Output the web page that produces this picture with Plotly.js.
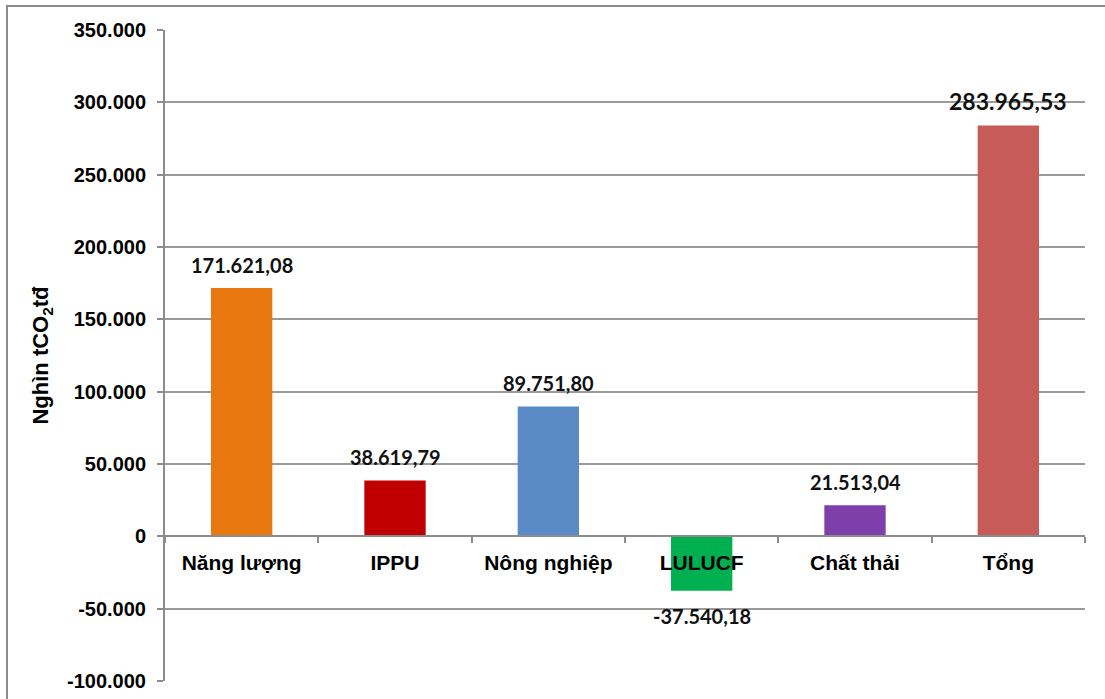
<!DOCTYPE html>
<html>
<head>
<meta charset="utf-8">
<script src="https://cdn.plot.ly/plotly-3.0.1.min.js"></script>
<style>
  html, body { margin: 0; padding: 0; background: #ffffff; }
  #chart { width: 1105px; height: 699px; }
</style>
</head>
<body>
<div id="chart"></div>
<script>
// Phát thải khí nhà kính theo lĩnh vực (nghìn tCO2tđ)
const categories = ['Năng lượng', 'IPPU', 'Nông nghiệp', 'LULUCF', 'Chất thải', 'Tổng'];
const emissions = [171621.08, 38619.79, 89751.80, -37540.18, 21513.04, 283965.53];
const barColors = ['#E8770F', '#C00000', '#5B8BC7', '#00B050', '#7E3FAA', '#C65B57'];

const yTickValues = [-100000, -50000, 0, 50000, 100000, 150000, 200000, 250000, 300000, 350000];
const yTickLabels = ['-100.000', '-50.000', '0', '50.000', '100.000', '150.000', '200.000', '250.000', '300.000', '350.000'];

const yMin = -100000, yMax = 350000;

// Vietnamese number style: "." groups thousands, "," marks decimals
function formatVi(v) {
  const neg = v < 0;
  const parts = Math.abs(v).toFixed(2).split('.');
  const grouped = parts[0].replace(/\B(?=(\d{3})+(?!\d))/g, '.');
  return (neg ? '-' : '') + grouped + ',' + parts[1];
}

const trace = {
  type: 'bar',
  x: categories,
  y: emissions,
  marker: { color: barColors, line: { width: 0 } },
  hoverinfo: 'x+y'
};

const annotations = categories.map((c, i) => {
  const v = emissions[i];
  const isTotal = i === categories.length - 1;
  return {
    x: c,
    y: v,
    xref: 'x',
    yref: 'y',
    text: formatVi(v),
    showarrow: false,
    yanchor: v >= 0 ? 'bottom' : 'top',
    yshift: v >= 0 ? 9 : -11,
    font: { family: 'Lato, "Noto Sans", sans-serif', size: isTotal ? 23 : 20, color: '#111111', weight: 'bold' }
  };
});

const zeroFrac = (0 - yMin) / (yMax - yMin);

const layout = {
  width: 1105,
  height: 699,
  margin: { l: 165, r: 20, t: 30, b: 18 },
  paper_bgcolor: '#ffffff',
  plot_bgcolor: '#ffffff',
  showlegend: false,
  bargap: 0.6,
  font: { family: '"Liberation Sans", Arial, sans-serif', color: '#000000' },
  xaxis: {
    type: 'category',
    anchor: 'free',
    position: zeroFrac,
    showline: true,
    linecolor: '#8c8c8c',
    linewidth: 2,
    ticks: 'outside',
    tickson: 'boundaries',
    ticklen: 6,
    tickwidth: 2,
    tickcolor: '#8c8c8c',
    showgrid: false,
    tickfont: { family: '"Liberation Sans", Arial, sans-serif', size: 21, color: '#000000', weight: 'bold' },
    ticklabelstandoff: 7,
    fixedrange: true
  },
  yaxis: {
    range: [yMin, yMax],
    tickvals: yTickValues,
    ticktext: yTickLabels,
    showline: true,
    linecolor: '#8c8c8c',
    linewidth: 2,
    ticks: 'outside',
    ticklen: 6,
    tickwidth: 2,
    tickcolor: '#8c8c8c',
    showgrid: true,
    gridcolor: '#9a9a9a',
    gridwidth: 2,
    zeroline: false,
    tickfont: { family: '"Liberation Sans", Arial, sans-serif', size: 20, color: '#000000', weight: 'bold' },
    ticklabelstandoff: 7,
    title: {
      text: 'Nghìn tCO<sub>2</sub>tđ',
      font: { family: '"Liberation Sans", Arial, sans-serif', size: 22, color: '#000000', weight: 'bold' },
      standoff: 12
    },
    fixedrange: true
  },
  annotations: annotations,
  shapes: [
    {
      type: 'rect',
      xref: 'paper', yref: 'paper',
      x0: -158 / 920, x1: 1.1,
      y0: -0.2, y1: 1 + 24 / 651,
      line: { color: '#8c8c8c', width: 2 },
      fillcolor: 'rgba(0,0,0,0)',
      layer: 'below'
    }
  ]
};

Plotly.newPlot('chart', [trace], layout, { displayModeBar: false, staticPlot: true });
</script>
</body>
</html>
